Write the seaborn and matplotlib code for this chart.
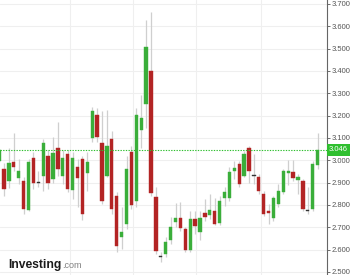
import matplotlib
matplotlib.use("Agg")
import matplotlib.pyplot as plt
import seaborn as sns
import numpy as np
import pandas as pd

opens = [2.996, 2.959, 2.905, 2.990, 2.919, 2.907, 2.777, 3.011, 2.900, 2.929,
         3.018, 2.914, 3.056, 2.928, 3.026, 2.865, 2.968, 3.006, 2.944, 3.100,
         3.204, 3.078, 2.930, 3.093, 2.840, 2.655, 2.713, 3.036, 2.817, 3.134,
         3.254, 3.398, 2.834, 2.568, 2.580, 2.643, 2.724, 2.740, 2.692, 2.597,
         2.739, 2.680, 2.763, 2.755, 2.773, 2.717, 2.833, 2.833, 2.951, 2.981,
         2.930, 3.056, 2.930, 2.926, 2.847, 2.773, 2.743, 2.803, 2.856, 2.941,
         2.947, 2.910, 2.907, 2.778, 2.780, 2.979]
highs = [3.050, 2.986, 3.053, 3.124, 3.004, 2.923, 3.004, 3.035, 2.950, 3.097,
         3.048, 3.106, 3.173, 3.048, 3.048, 3.035, 3.004, 3.018, 3.039, 3.240,
         3.236, 3.222, 3.227, 3.129, 2.856, 2.789, 3.018, 3.062, 3.236, 3.294,
         3.629, 3.664, 2.878, 2.588, 2.655, 2.745, 2.807, 2.811, 2.700, 2.771,
         2.771, 2.771, 2.825, 2.847, 2.830, 2.838, 2.878, 2.968, 2.995, 2.995,
         3.040, 3.062, 3.026, 2.937, 2.862, 2.803, 2.840, 2.892, 2.963, 2.999,
         2.999, 2.937, 2.914, 2.878, 2.996, 3.120]
lows = [2.990, 2.838, 2.874, 2.950, 2.892, 2.758, 2.771, 2.870, 2.879, 2.861,
        2.870, 2.900, 2.928, 2.892, 2.856, 2.825, 2.790, 2.731, 2.861, 3.084,
        3.084, 2.803, 2.923, 2.758, 2.588, 2.602, 2.691, 2.780, 2.789, 3.057,
        3.146, 2.840, 2.580, 2.543, 2.566, 2.624, 2.700, 2.682, 2.588, 2.588,
        2.670, 2.642, 2.727, 2.736, 2.709, 2.709, 2.794, 2.816, 2.914, 2.878,
        2.923, 2.900, 2.892, 2.847, 2.749, 2.713, 2.727, 2.789, 2.847, 2.887,
        2.905, 2.847, 2.771, 2.758, 2.771, 2.959]
closes = [3.045, 2.870, 2.988, 2.972, 2.951, 2.780, 2.990, 2.899, 2.897, 3.078,
          2.896, 3.033, 2.961, 3.011, 2.870, 3.008, 2.922, 2.758, 2.992, 3.219,
          3.104, 2.817, 3.066, 2.780, 2.617, 2.678, 2.959, 2.800, 3.204, 3.190,
          3.507, 2.852, 2.594, 2.565, 2.633, 2.703, 2.740, 2.696, 2.597, 2.739,
          2.706, 2.742, 2.745, 2.778, 2.716, 2.816, 2.858, 2.947, 2.966, 2.894,
          3.026, 2.951, 2.928, 2.862, 2.758, 2.765, 2.829, 2.862, 2.951, 2.954,
          2.919, 2.925, 2.780, 2.774, 2.984, 3.046]
y_ticks = [2.5, 2.6, 2.7, 2.8, 2.9, 3.0, 3.1, 3.2, 3.3, 3.4, 3.5, 3.6, 3.7]
y_tick_labels = ["2.500", "2.600", "2.700", "2.800", "2.900", "3.000", "3.100",
                 "3.200", "3.300", "3.400", "3.500", "3.600", "3.700"]
last_price = 3.046
last_label = "3.046"

df = pd.DataFrame({"open": opens, "high": highs, "low": lows, "close": closes})
df["idx"] = np.arange(len(df))

GREEN = "#3aae3a"
RED = "#b32424"
DARK = "#333333"
WICK = "#cfcfcf"
LAST = "#2fbf2f"

def color_for(o, c):
    if abs(c - o) < 0.005:
        return DARK
    return GREEN if c > o else RED

df["color"] = [color_for(o, c) for o, c in zip(df["open"], df["close"])]
df["bottom"] = np.minimum(df["open"], df["close"])
df["height"] = np.maximum(np.abs(df["close"] - df["open"]), 0.005)

sns.set_theme(style="white")
plt.rcParams["font.family"] = ["Liberation Sans", "DejaVu Sans"]

fig = plt.figure(figsize=(3.5, 2.75), dpi=100)
ax = fig.add_axes([0, 0, 327 / 350, 1])

# grid
for t in y_ticks:
    ax.axhline(t, color="#efefef", lw=0.8, zorder=0)
ax.set_xticks([14.47, 27.35, 40.2, 53.4])
ax.xaxis.grid(True, color="#efefef", lw=0.8)
ax.set_axisbelow(True)

# wicks
ax.vlines(df["idx"], df["low"], df["high"], color=WICK, lw=0.9, zorder=2)
# bodies
ax.bar(df["idx"], df["height"], bottom=df["bottom"], width=0.68,
       color=df["color"], edgecolor=df["color"], linewidth=0.3, zorder=3)

# last price line
ax.axhline(last_price, color=LAST, lw=0.8, ls=(0, (1.2, 1.2)), zorder=4)

ax.set_xlim(0.18, 66.92)
ax.set_ylim(2.486, 3.7179)
ax.yaxis.tick_right()
ax.set_yticks(y_ticks)
ax.set_yticklabels(y_tick_labels)
ax.tick_params(axis="y", length=2, width=0.6, color="#555555", pad=1.5,
               labelsize=5.5, labelcolor="#555555", right=True, left=False)
ax.tick_params(axis="x", length=0, labelbottom=False)
for s in ["top", "left", "bottom"]:
    ax.spines[s].set_visible(False)
ax.spines["right"].set_color("#666666")
ax.spines["right"].set_linewidth(0.8)

# last price label box
ax.text(1.006, last_price, last_label, transform=ax.get_yaxis_transform(),
        ha="left", va="center", fontsize=5.5, color="white",
        bbox=dict(boxstyle="square,pad=0.3", fc=LAST, ec="none"),
        zorder=6, clip_on=False)

# logo
fig.text(8 / 350, 1 - 268 / 275, "Investing", fontsize=8.7, fontweight="bold",
         color="#1b1b1b", ha="left", va="baseline")
fig.text(62.5 / 350, 1 - 268 / 275, ".com", fontsize=6.5, color="#808080",
         ha="left", va="baseline")

fig.savefig("out.png", dpi=100)
